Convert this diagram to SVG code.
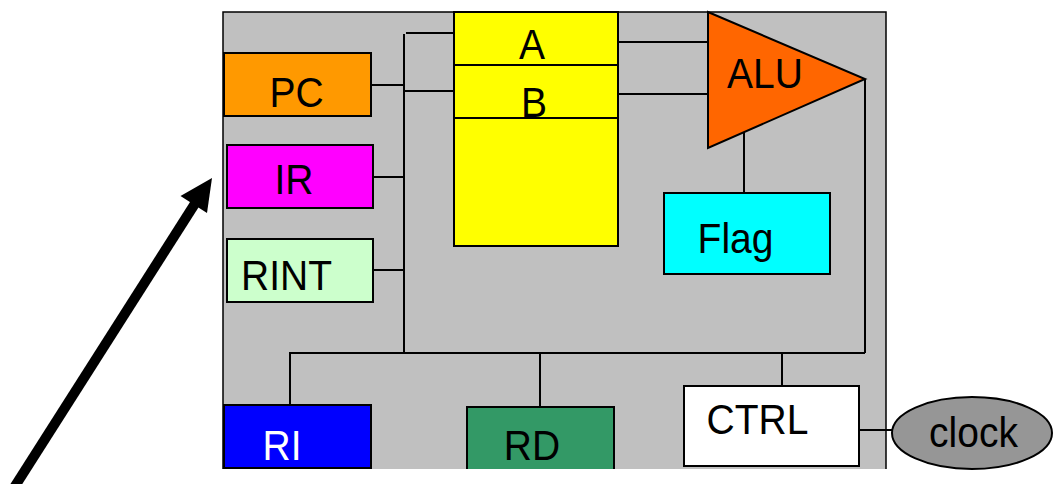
<svg xmlns="http://www.w3.org/2000/svg" width="1055" height="484" viewBox="0 0 1055 484">
<style>
.box{stroke:#000;stroke-width:2}
.w{stroke:#000;stroke-width:2;fill:none}
text{font-family:"Liberation Sans",Arial,sans-serif;font-size:39px;text-anchor:middle;fill:#000}
</style>
<rect width="1055" height="484" fill="#fff"/>
<g id="frame">
<rect x="223" y="12" width="663" height="457" fill="#C0C0C0"/>
<path d="M223,469 V12 H886 V469" fill="none" stroke="#000" stroke-width="1.5"/>
</g>
<g id="connectors">
<path class="w" d="M406,33 H454"/>
<path class="w" d="M404,34 V353"/>
<path class="w" d="M371,85 H404"/>
<path class="w" d="M404,91 H454"/>
<path class="w" d="M373,177 H404"/>
<path class="w" d="M373,270 H404"/>
<path class="w" d="M618,42 H717"/>
<path class="w" d="M618,94 H718"/>
<path class="w" d="M744,128 V192"/>
<path class="w" d="M865,79 V353"/>
<path class="w" d="M289,353 H865"/>
<path class="w" d="M290,353 V405"/>
<path class="w" d="M540,353 V407"/>
<path class="w" d="M782,353 V386"/>
<path class="w" d="M859,430 H905"/>
</g>
<g id="regs">
<rect class="box" x="454" y="12" width="164" height="234" fill="#FFFF00"/>
<path class="w" d="M454,65 H618 M454,118 H618"/>
<text transform="translate(532,59) scale(1,1.08)">A</text>
<text transform="translate(534,117) scale(1,1.08)">B</text>
</g>
<g id="alu">
<polygon points="708,12 865,79 708,148" fill="#FF6600" stroke="#000" stroke-width="2"/>
<text transform="translate(765,88) scale(1,1.08)">ALU</text>
</g>
<g id="pc">
<rect class="box" x="224" y="53" width="147" height="63" fill="#FF9900"/>
<text transform="translate(296.5,107) scale(1,1.08)">PC</text>
</g>
<g id="ir">
<rect class="box" x="227" y="145" width="146" height="63" fill="#FF00FF"/>
<text transform="translate(294,194) scale(1,1.08)">IR</text>
</g>
<g id="rint">
<rect class="box" x="227" y="239" width="146" height="63" fill="#CCFFCC"/>
<text transform="translate(286.5,290) scale(1,1.08)">RINT</text>
</g>
<g id="flag">
<rect class="box" x="664" y="193" width="166" height="81" fill="#00FFFF"/>
<text transform="translate(735.5,253) scale(1,1.08)">Flag</text>
</g>
<g id="ri">
<rect class="box" x="224" y="405" width="147" height="63" fill="#0000FF"/>
<text transform="translate(282,460) scale(1,1.08)" style="fill:#fff">RI</text>
</g>
<g id="rd">
<rect class="box" x="467" y="407" width="147" height="70" fill="#339966"/>
<text transform="translate(532,460) scale(1,1.08)">RD</text>
</g>
<g id="ctrl">
<rect class="box" x="684" y="386" width="175" height="80" fill="#FFFFFF"/>
<text transform="translate(757.5,434) scale(1,1.08)">CTRL</text>
</g>
<g id="clock">
<ellipse cx="972" cy="433" rx="80" ry="36" fill="#969696" stroke="#000" stroke-width="2"/>
<text transform="translate(973.5,447) scale(1,1.08)">clock</text>
</g>
<rect x="223" y="469" width="700" height="15" fill="#fff"/>
<g id="arrow">
<line x1="10" y1="494" x2="196" y2="202" stroke="#000" stroke-width="10"/>
<polygon points="212,178 207,213 180.5,196" fill="#000"/>
</g>
</svg>
